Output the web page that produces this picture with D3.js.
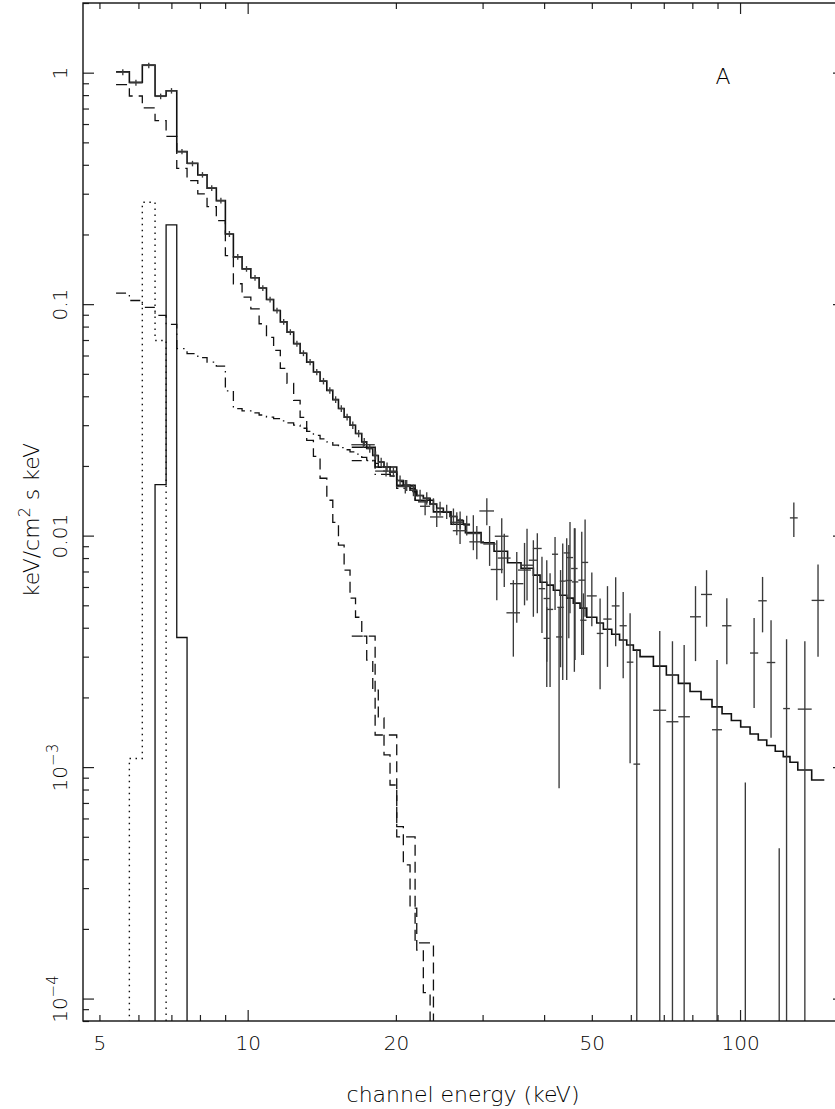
<!DOCTYPE html>
<html><head><meta charset="utf-8">
<script src="https://cdn.jsdelivr.net/npm/d3@7"></script>
<style>
body{margin:0;background:#fff;}
svg text{font-family:"DejaVu Sans",sans-serif;font-weight:200;fill:#000;}
</style></head>
<body><svg id="chart" width="835" height="1109"></svg>
<script>
// ---------------- data (keV, keV/cm^2 s keV) ----------------
const xDomain = [4.63, 162.6];
const yDomain = [8e-5, 2];
const xMajorTicks = [10, 100];
const xMinorTicks = [5, 6, 7, 8, 9, 20, 30, 40, 50, 60, 70, 80, 90];
const xTickLabels = [5, 10, 20, 50, 100];
const yMajorTicks = [1e-4, 1e-3, 1e-2, 0.1, 1];
const yTickLabels = ["10^-4", "10^-3", "0.01", "0.1", "1"];

// low-energy instrument channel edges (keV)
const edgesLow = [5.404, 5.751, 6.110, 6.485, 6.829, 7.178, 7.532, 7.920, 8.270, 8.637, 9.010, 9.354, 9.742,
  10.15, 10.55, 10.92, 11.29, 11.65, 12.02, 12.40, 12.78, 13.18, 13.60, 14.03, 14.48, 14.89, 15.29, 15.70,
  16.14, 16.56, 17.05, 17.45, 17.95, 18.42, 18.92, 19.46, 20.08, 20.71, 21.37, 22.05, 22.74, 23.47, 24.21,
  24.97, 25.76, 26.59, 27.42, 28.29];
const modelLow = [1.010, 0.908, 1.080, 0.793, 0.836, 0.456, 0.406, 0.362, 0.317, 0.280, 0.201, 0.160, 0.142,
  0.130, 0.1174, 0.1047, 0.0939, 0.0838, 0.0757, 0.0675, 0.0614, 0.0562, 0.0509, 0.0465, 0.0424, 0.0387,
  0.0354, 0.0325, 0.0300, 0.0276, 0.0254, 0.0238, 0.0222, 0.0208, 0.0198, 0.0188, 0.0173, 0.0165, 0.0157,
  0.0149, 0.0145, 0.0137, 0.01313, 0.01262, 0.0121, 0.01159, 0.0112];
// thermal (dashed) component
const compThermal = [0.888, 0.793, 0.704, 0.621, 0.531, 0.386, 0.342, 0.2996, 0.264, 0.2297, 0.1622, 0.1225,
  0.1072, 0.0955, 0.0823, 0.0718, 0.0631, 0.0528, 0.0455, 0.0384, 0.0324, 0.0258, 0.0220, 0.0177, 0.01422,
  0.01142, 0.00909, 0.00709, 0.00537, 0.00444, 0.00368, 0.00290, 0.00215, 0.00163, 0.00113, 0.000837,
  0.000553, 0.000378, 0.000246, 0.000162, 0.000106, 0.0000733];
// power law with edge (dash-dot) component
const compPowerLaw = [0.1115, 0.1037, 0.0968, 0.0894, 0.0818, 0.0642, 0.0611, 0.0587, 0.0562, 0.0540, 0.0422,
  0.0354, 0.0346, 0.0339, 0.0332, 0.0325, 0.0320, 0.0313, 0.0307, 0.0300, 0.0291, 0.0282, 0.0271, 0.0262,
  0.0254, 0.0246, 0.0240, 0.0235, 0.0230, 0.0225, 0.0218, 0.0212, 0.0205, 0.0197, 0.0190, 0.0181, 0.0171,
  0.0163, 0.0155, 0.0149, 0.0144, 0.0136];
// iron lines on the first 9 channels (0 = off scale)
const compLineDotted = [0, 0.00109, 0.2755, 0.0697, 0, 0, 0, 0, 0];
const compLineSolid  = [0, 0, 0, 0.0166, 0.220, 0.00363, 0, 0, 0];
// low-energy data, one per channel
const dataLowVal = [1.005, 0.905, 1.075, 0.79, 0.835, 0.456, 0.405, 0.362, 0.317, 0.280, 0.201, 0.160, 0.142,
  0.130, 0.1174, 0.1047, 0.0939, 0.0838, 0.0757, 0.0675, 0.0614, 0.0562, 0.0509, 0.0465, 0.0424, 0.0387,
  0.0354, 0.0325, 0.0300, 0.0276, 0.0254, 0.0238, 0.0222, 0.0208, 0.0198, 0.0188, 0.0173, 0.0165, 0.0157,
  0.0149, 0.0145, 0.0137, 0.0131, 0.0127, 0.0121, 0.0117, 0.0111];
const dataLowErr = [0.03, 0.027, 0.03, 0.022, 0.023, 0.012, 0.011, 0.010, 0.009, 0.008, 0.006, 0.0045, 0.004,
  0.0037, 0.0033, 0.003, 0.0027, 0.0024, 0.0022, 0.002, 0.0018, 0.0017, 0.0016, 0.0015, 0.0014, 0.0013,
  0.0012, 0.0011, 0.0011, 0.001, 0.001, 0.001, 0.0009, 0.0009, 0.0009, 0.0009, 0.0009, 0.0009, 0.0009,
  0.0009, 0.0009, 0.0008, 0.0009, 0.0009, 0.001, 0.001, 0.0011];

// high-energy instrument channel edges (keV) and model
const edgesHigh = [16.27, 18.15, 20.08, 21.88, 23.84, 25.89, 27.68, 29.79, 31.65, 33.72, 35.91, 38.04, 39.25,
  40.50, 41.77, 43.10, 44.46, 45.85, 47.32, 48.83, 51.17, 52.77, 54.88, 56.92, 58.87, 60.72, 62.65, 66.68,
  70.85, 74.94, 79.15, 83.32, 87.71, 91.93, 96.02, 100.3, 104.8, 108.9, 113.3, 117.9, 122.4, 126.3, 131.0,
  139.8, 148.3];
const modelHigh = [0.02407, 0.0198, 0.0165, 0.01422, 0.01266, 0.0112, 0.0103, 0.00932, 0.00856, 0.00764,
  0.00723, 0.00675, 0.00629, 0.00611, 0.00581, 0.00553, 0.00537, 0.00511, 0.00486, 0.00444, 0.00419, 0.00394,
  0.00375, 0.00354, 0.00337, 0.00320, 0.00300, 0.00273, 0.00250, 0.00230, 0.00212, 0.00196, 0.00182,
  0.00170, 0.00159, 0.00149, 0.00139, 0.00131, 0.00124, 0.00117, 0.00111, 0.00105, 0.000971, 0.000879];
const compThermalHigh = [0.00368, 0.001376, 0.0005, 0.000174, 0.00005];
const compPowerLawHigh = [0.0211, 0.0184, 0.0160, 0.0140];

// high-energy data: centre, half width, value, lower, upper (0 = off scale)
const dataHighE  = [17.18, 19.1, 20.9, 22.93, 24.21, 26.59, 27.0, 28.73, 29.2, 30.60, 31.0, 32.06, 32.81, 33.2,
  34.64, 35.2, 36.5, 36.93, 38.04, 38.75, 39.6, 40.50, 40.5, 41.13, 42.10, 42.90, 43.2, 43.64, 44.46, 44.9,
  45.15, 46.08, 46.23, 47.70, 48.07, 48.45,
  50.0, 51.97, 53.8, 55.9, 57.9, 59.8, 61.7, 68.7, 72.9, 77.0, 81.2, 85.5, 89.8, 94.0, 102.5, 106.8, 111.1,
  115.6, 120.1, 124.3, 128.6, 135.4, 144.0];
const dataHighHW = [0.94, 0.95, 0.9, 0.54, 0.75, 0.83, 0.9, 1.0, 1.0, 1.05, 0.9, 0.9, 1.05, 1.0,
  1.1, 1.1, 1.1, 1.1, 0.8, 0.8, 0.6, 0.6, 0.6, 0.6, 0.6, 0.6, 0.65, 0.6, 0.65, 0.7,
  0.65, 0.7, 0.7, 0.75, 0.7, 0.7,
  1.17, 0.8, 1.05, 1.02, 0.97, 0.92, 0.96, 2.08, 2.05, 2.1, 2.08, 2.2, 2.1, 2.05, 2.25, 2.05, 2.2,
  2.3, 2.25, 1.95, 2.35, 4.4, 4.25];
const dataHighVal = [0.0247, 0.0190, 0.0163, 0.01339, 0.01204, 0.01142, 0.0105, 0.01021, 0.0094, 0.01278, 0.0092,
  0.00714, 0.00994, 0.0080, 0.00464, 0.0062, 0.0071, 0.00745, 0.00783, 0.0088, 0.0059, 0.0036, 0.00535, 0.0048,
  0.00831, 0.00365, 0.0049, 0.00636, 0.00842, 0.0064, 0.00804, 0.00721, 0.00631, 0.00642, 0.00431, 0.00766,
  0.00549, 0.00378, 0.00436, 0.00497, 0.00408, 0.00284, 0.00103, 0.00176, 0.00157, 0.00165, 0.00446,
  0.00557, 0.00145, 0.00408, 0, 0.00311, 0.00523, 0.00283, 0, 0.00179, 0.01193, 0.00178, 0.00525];
const dataHighLo = [0.02395, 0.0180, 0.0152, 0.01225, 0.0109, 0.01004, 0.0092, 0.00865, 0.0079, 0.01109, 0.0074,
  0.00526, 0.00688, 0.0060, 0.003, 0.0042, 0.0050, 0.00525, 0.00446, 0.00462, 0.0038, 0.00222, 0.00285, 0.00222,
  0.00477, 0.00081, 0.0027, 0.00238, 0.00238, 0.0036, 0.00462, 0.00258, 0.0029, 0.00305, 0.00305, 0.00446,
  0.00406, 0.00217, 0.00271, 0.00333, 0.00242, 0.00104, 0, 0, 0, 0, 0.00287, 0.00404, 0, 0.00278, 0,
  0.0018, 0.00382, 0.00134, 0, 0, 0.00987, 0, 0.003];
const dataHighHi = [0.02555, 0.0200, 0.0174, 0.01422, 0.01313, 0.01262, 0.0119, 0.01225, 0.0110, 0.0145, 0.0110,
  0.00955, 0.01189, 0.0102, 0.00642, 0.0085, 0.0093, 0.0107, 0.00955, 0.01024, 0.0081, 0.00492, 0.00783, 0.00688,
  0.00987, 0.00492, 0.0071, 0.00924, 0.00975, 0.0091, 0.01146, 0.01076, 0.01076, 0.01038, 0.00563, 0.01174,
  0.00693, 0.00535, 0.00605, 0.00661, 0.00571, 0.00462, 0.00323, 0.00387, 0.0035, 0.00337, 0.00605,
  0.00709, 0.0029, 0.00537, 0.000857, 0.00441, 0.00663, 0.00431, 0.000446, 0.00357, 0.0139, 0.0035, 0.0075];

// ---------------- drawing ----------------
const L = 83, R = 844, T = 3, B = 1021;
const svg = d3.select("#chart");
const x = d3.scaleLog().domain(xDomain).range([L, R]);
const y = d3.scaleLog().domain(yDomain).range([B, T]);
const yv = v => y(Math.max(v, 1e-7));

svg.append("defs").append("clipPath").attr("id", "plotclip")
  .append("rect").attr("x", L).attr("y", T).attr("width", R - L).attr("height", B - T);
const plot = svg.append("g").attr("clip-path", "url(#plotclip)");

function stepLine(edges, vals) {
  const pts = vals.map((v, i) => [edges[i], v]);
  pts.push([edges[vals.length], vals[vals.length - 1]]);
  return d3.line().x(d => x(d[0])).y(d => yv(d[1])).curve(d3.curveStepAfter)(pts);
}
function drawStep(edges, vals, dash, width) {
  plot.append("path").attr("d", stepLine(edges, vals))
    .attr("fill", "none").attr("stroke", "#111")
    .attr("stroke-width", width)
    .attr("stroke-dasharray", dash || null);
}
const DASH = "11,6", DASHDOT = "10,5,1.5,5", DOT = "1.5,4.5";
drawStep(edgesLow, compThermal, DASH, 1.3);
drawStep(edgesHigh, compThermalHigh, DASH, 1.3);
drawStep(edgesLow, compPowerLaw, DASHDOT, 1.3);
drawStep(edgesHigh, compPowerLawHigh, DASHDOT, 1.3);
drawStep(edgesLow, compLineDotted, DOT, 1.4);
drawStep(edgesLow, compLineSolid, null, 1.3);
drawStep(edgesLow, modelLow, null, 1.6);
drawStep(edgesHigh, modelHigh, null, 1.6);

// data crosses
const gData = plot.append("g").attr("stroke", "#3a3a3a").attr("stroke-width", 1.35);
dataLowVal.forEach((v, i) => {
  const e0 = edgesLow[i], e1 = edgesLow[i + 1], ec = (e0 + e1) / 2;
  gData.append("line").attr("x1", x(e0)).attr("x2", x(e1)).attr("y1", yv(v)).attr("y2", yv(v));
  gData.append("line").attr("x1", x(ec)).attr("x2", x(ec))
    .attr("y1", yv(v - dataLowErr[i])).attr("y2", yv(v + dataLowErr[i]));
});
dataHighE.forEach((e, i) => {
  const v = dataHighVal[i];
  if (v > 0) gData.append("line").attr("x1", x(e - dataHighHW[i])).attr("x2", x(e + dataHighHW[i]))
    .attr("y1", yv(v)).attr("y2", yv(v));
  gData.append("line").attr("x1", x(e)).attr("x2", x(e))
    .attr("y1", yv(dataHighLo[i])).attr("y2", yv(dataHighHi[i]));
});

// ticks, inward on all four sides
function tickAxis(axisFn, scale, vals, size, transform) {
  const g = svg.append("g").attr("transform", transform)
    .call(axisFn(scale).tickValues(vals).tickSize(-size).tickFormat(""));
  g.select(".domain").remove();
  g.selectAll("line").attr("stroke", "#222").attr("stroke-width", 1.2);
}
const yMinor = [];
[1e-5, 1e-4, 1e-3, 1e-2, 0.1, 1].forEach(d => {
  for (let k = 2; k <= 9; k++) { const v = d * k; if (v >= yDomain[0] * 0.999 && v <= yDomain[1] * 1.001) yMinor.push(v); }
});
tickAxis(d3.axisBottom, x, xMajorTicks, 11, `translate(0,${B})`);
tickAxis(d3.axisBottom, x, xMinorTicks, 6, `translate(0,${B})`);
tickAxis(d3.axisTop, x, xMajorTicks, 11, `translate(0,${T})`);
tickAxis(d3.axisTop, x, xMinorTicks, 6, `translate(0,${T})`);
tickAxis(d3.axisLeft, y, yMajorTicks, 11, `translate(${L},0)`);
tickAxis(d3.axisLeft, y, yMinor, 6, `translate(${L},0)`);
tickAxis(d3.axisRight, y, yMajorTicks, 11, `translate(${R},0)`);
tickAxis(d3.axisRight, y, yMinor, 6, `translate(${R},0)`);

svg.append("rect").attr("x", L).attr("y", T).attr("width", R - L).attr("height", B - T)
  .attr("fill", "none").attr("stroke", "#111").attr("stroke-width", 1.4);

// x tick labels
const xl = svg.append("g").attr("transform", `translate(0,${B})`)
  .call(d3.axisBottom(x).tickValues(xTickLabels).tickSize(0).tickFormat(d3.format("d")));
xl.select(".domain").remove();
xl.selectAll("text").attr("y", 29).attr("dy", null).attr("font-size", 20)
  .attr("font-family", null).attr("fill", null);

// y tick labels, rotated
const yl = svg.append("g").attr("transform", `translate(${L},0)`)
  .call(d3.axisLeft(y).tickValues(yMajorTicks).tickSize(0).tickFormat(""));
yl.select(".domain").remove();
yl.selectAll(".tick").each(function (d) {
  const lab = yTickLabels[yMajorTicks.indexOf(d)];
  const t = d3.select(this).select("text")
    .attr("x", null).attr("dy", null).attr("font-family", null).attr("fill", null)
    .attr("font-size", 20).attr("text-anchor", "middle")
    .attr("transform", "translate(-16,0) rotate(-90)");
  if (lab.includes("^")) {
    const [base, exp] = lab.split("^");
    t.text(base);
    t.append("tspan").attr("dy", -9).attr("font-size", 15).text(exp.replace("-", "\u2212"));
  } else t.text(lab);
});

// axis titles and panel label
svg.append("text").attr("x", 463).attr("y", 1102).attr("text-anchor", "middle")
  .attr("font-size", 22).text("channel energy (keV)");
const yt = svg.append("text").attr("text-anchor", "middle").attr("font-size", 22)
  .attr("transform", "translate(39,520) rotate(-90)");
yt.append("tspan").text("keV/cm");
yt.append("tspan").attr("dy", -9).attr("font-size", 16).text("2");
yt.append("tspan").attr("dy", 9).text(" s keV");
svg.append("text").attr("x", 723).attr("y", 84).attr("text-anchor", "middle")
  .attr("font-size", 22).text("A");
</script></body></html>
